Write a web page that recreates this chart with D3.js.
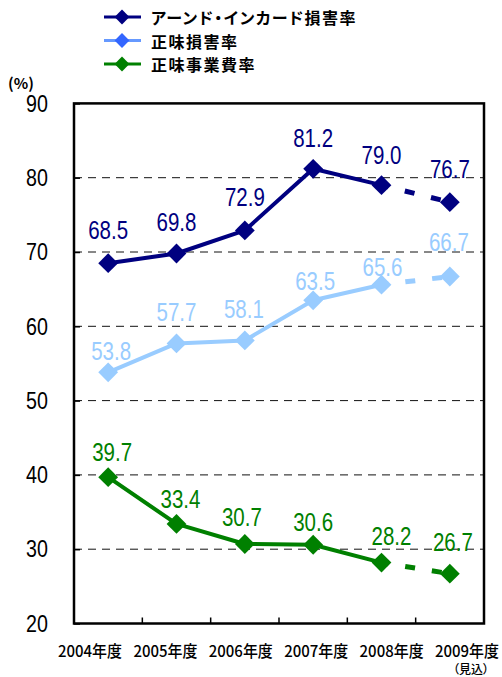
<!DOCTYPE html>
<html>
<head>
<meta charset="utf-8">
<script src="https://cdn.jsdelivr.net/npm/d3@7"></script>
<style>
  html, body { margin: 0; padding: 0; background: #fff; }
  svg { display: block; }
  .num { font-family: "Liberation Sans", Arial, sans-serif; }
  .jp { font-family: "Noto Sans CJK JP", sans-serif; font-feature-settings: "palt"; }
</style>
</head>
<body>
<svg id="chart" width="502" height="677"></svg>
<script>
// Fiscal years on the category axis
const years = ["2004年度", "2005年度", "2006年度", "2007年度", "2008年度", "2009年度"];
const forecastNote = "（見込）";

// Ratios in percent
const earnedIncurredRatio = [68.5, 69.8, 72.9, 81.2, 79.0, 76.7];
const netLossRatio = [53.8, 57.7, 58.1, 63.5, 65.6, 66.7];
const netExpenseRatio = [39.7, 33.4, 30.7, 30.6, 28.2, 26.7];

const seriesNames = ["アーンド・インカード損害率", "正味損害率", "正味事業費率"];
const yTicks = [20, 30, 40, 50, 60, 70, 80, 90];

// Styling per series
const seriesStyle = [
  { color: "#000080", legendLine: "#000080", legendMark: "#000080" },
  { color: "#99CCFF", legendLine: "#6699FF", legendMark: "#3366FF" },
  { color: "#008000", legendLine: "#008000", legendMark: "#008000" }
];

// Label placement: rise above the marker centre and sideways nudge (px)
const labelRise = [
  [33, 31, 33, 31, 30, 33],
  [21, 31, 31, 19, 17, 34],
  [25, 25, 27, 22, 26, 31]
];
const labelShift = [
  [0, 0, 0, 0, 0, 0],
  [3, 0, -1, 2, 1, -1],
  [4, 4, -3, 0, 10, 3]
];

// Narrow-figure look: horizontal squeeze applied to numeric text
const NARROW = 0.82;

const series = [earnedIncurredRatio, netLossRatio, netExpenseRatio].map((values, i) => ({
  name: seriesNames[i],
  values,
  style: seriesStyle[i],
  rise: labelRise[i],
  shift: labelShift[i]
}));

const svg = d3.select("#chart");
const plot = { left: 74, right: 484, top: 103.4, bottom: 623.5 };

const x = d3.scalePoint().domain(years).range([plot.left, plot.right]).padding(0.5);
const xBand = d3.scaleBand().domain(years).range([plot.left, plot.right]);
const xLabel = d3.scalePoint().domain(years).range([90, 467]);
const y = d3.scaleLinear().domain([20, 90]).range([plot.bottom, plot.top]);

// Dashed gridlines
svg.append("g")
  .selectAll("line")
  .data(yTicks.filter(t => t > 20 && t < 90))
  .join("line")
  .attr("x1", plot.left).attr("x2", plot.right)
  .attr("y1", d => y(d)).attr("y2", d => y(d))
  .attr("stroke", "#111").attr("stroke-width", 1)
  .attr("stroke-dasharray", "8,6");

// Y axis: inward ticks, labels drawn separately
const yAxis = d3.axisRight(y).tickValues(yTicks).tickSize(6).tickFormat("");
svg.append("g")
  .attr("transform", `translate(${plot.left},0)`)
  .call(yAxis)
  .call(g => g.select(".domain").remove())
  .call(g => g.selectAll("line").attr("stroke", "#000").attr("stroke-width", 1.5));

svg.append("g")
  .selectAll("text")
  .data(yTicks)
  .join("text")
  .attr("class", "num")
  .attr("transform", d => `translate(48,${y(d)}) scale(${NARROW},1)`)
  .attr("text-anchor", "end")
  .attr("dominant-baseline", "central")
  .attr("font-size", 24)
  .attr("fill", "#000")
  .text(d => d);

// X axis: inward ticks on category boundaries
const boundaries = years.slice(1).map(yv => xBand(yv));
svg.append("g")
  .selectAll("line")
  .data(boundaries)
  .join("line")
  .attr("x1", d => d).attr("x2", d => d)
  .attr("y1", plot.bottom).attr("y2", plot.bottom - 6)
  .attr("stroke", "#000").attr("stroke-width", 1.5);

// Plot frame
svg.append("rect")
  .attr("x", plot.left).attr("y", plot.top)
  .attr("width", plot.right - plot.left).attr("height", plot.bottom - plot.top)
  .attr("fill", "none").attr("stroke", "#000").attr("stroke-width", 2.5);

// Category labels
const xl = svg.append("g");
xl.selectAll("text")
  .data(years)
  .join("text")
  .attr("class", "jp")
  .attr("x", d => xLabel(d))
  .attr("y", 650)
  .attr("text-anchor", "middle")
  .attr("dominant-baseline", "central")
  .attr("font-size", 16)
  .attr("font-weight", 500)
  .attr("textLength", 64)
  .attr("lengthAdjust", "spacingAndGlyphs")
  .attr("fill", "#000")
  .text(d => d);
xl.append("text")
  .attr("class", "jp")
  .attr("x", xLabel(years[years.length - 1]) + 4)
  .attr("y", 668)
  .attr("text-anchor", "middle")
  .attr("dominant-baseline", "central")
  .attr("font-size", 12)
  .attr("font-weight", 500)
  .attr("fill", "#000")
  .text(forecastNote);

// Unit label
svg.append("text")
  .attr("class", "jp")
  .attr("x", 21).attr("y", 82)
  .attr("text-anchor", "middle")
  .attr("dominant-baseline", "central")
  .attr("font-size", 15)
  .attr("font-weight", 700)
  .text("(%)");

// Lines, markers and value labels
const diamond = d3.symbol().type(d3.symbolSquare).size(14 * 14);
const last = years.length - 1;
const lineGen = d3.line().x(d => x(years[d.i])).y(d => y(d.v));

series.forEach(s => {
  const pts = s.values.map((v, i) => ({ v, i }));
  const g = svg.append("g");
  // actual years: solid
  g.append("path")
    .datum(pts.slice(0, last))
    .attr("d", lineGen)
    .attr("fill", "none")
    .attr("stroke", s.style.color)
    .attr("stroke-width", 4)
    .attr("stroke-linejoin", "round");
  // forecast year: dashed
  g.append("path")
    .datum(pts.slice(last - 1))
    .attr("d", lineGen)
    .attr("fill", "none")
    .attr("stroke", s.style.color)
    .attr("stroke-width", 5)
    .attr("stroke-dasharray", "10 17")
    .attr("stroke-dashoffset", 3);
  g.selectAll("path.mark")
    .data(pts)
    .join("path")
    .attr("class", "mark")
    .attr("d", diamond)
    .attr("transform", d => `translate(${x(years[d.i])},${y(d.v)}) rotate(45)`)
    .attr("fill", s.style.color);
  g.selectAll("text")
    .data(pts)
    .join("text")
    .attr("class", "num")
    .attr("transform", d =>
      `translate(${x(years[d.i]) + s.shift[d.i]},${y(d.v) - s.rise[d.i]}) scale(${NARROW},1)`)
    .attr("text-anchor", "middle")
    .attr("dominant-baseline", "central")
    .attr("font-size", 25)
    .attr("fill", s.style.color)
    .text(d => d.v.toFixed(1));
});

// Legend
const legend = svg.append("g");
const legendRows = [17, 40.5, 64];
const legendMark = d3.symbol().type(d3.symbolSquare).size(10.5 * 10.5);
series.forEach((s, i) => {
  const row = legend.append("g").attr("transform", `translate(0,${legendRows[i]})`);
  row.append("line")
    .attr("x1", 104).attr("x2", 141).attr("y1", 0).attr("y2", 0)
    .attr("stroke", s.style.legendLine).attr("stroke-width", 3);
  row.append("path")
    .attr("d", legendMark)
    .attr("transform", "translate(122,0) rotate(45)")
    .attr("fill", s.style.legendMark);
  row.append("text")
    .attr("class", "jp")
    .attr("x", 151).attr("y", 0)
    .attr("dominant-baseline", "central")
    .attr("font-size", 16)
    .attr("letter-spacing", 1.5)
    .attr("font-weight", 700)
    .attr("fill", "#000")
    .text(s.name);
});
</script>
</body>
</html>
